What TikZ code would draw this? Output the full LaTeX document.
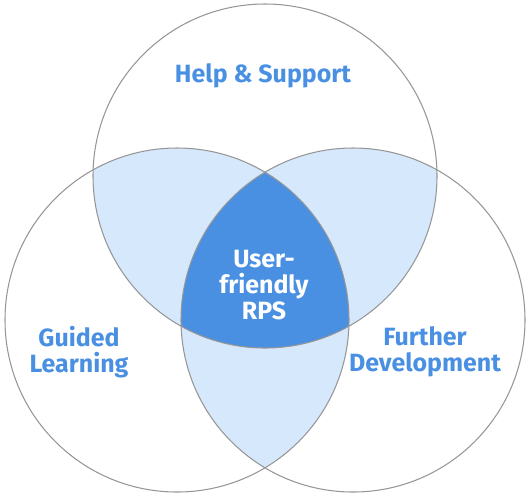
\documentclass[tikz,border=0pt]{standalone}
\usepackage{xcolor}
\usepackage{fontspec}
\setmainfont{Fira Sans}
\usepackage{tikz}
\usetikzlibrary{positioning}
\definecolor{myblue}{RGB}{74,144,226}
\definecolor{mylight}{RGB}{214,232,252}
\definecolor{mygray}{RGB}{150,150,150}
\tikzset{
  ring/.style={draw=mygray, line width=0.6pt},
  label/.style={align=center, text=myblue,
    font=\fontsize{14.2}{14.8}\selectfont\bfseries},
  core/.style={align=center, text=white,
    font=\fontsize{14.2}{14.8}\selectfont\bfseries}
}

\begin{document}
\begin{tikzpicture}[x=0.02cm, y=-0.02cm]
  \useasboundingbox (0,0) rectangle (530,495);
  \def\rr{172}
  \coordinate (top) at (265,176);
  \coordinate (left) at (177,320);
  \coordinate (right) at (353,320);

  % pairwise overlaps
  \begin{scope}
    \clip (top) circle (\rr);
    \fill[mylight] (left) circle (\rr);
    \fill[mylight] (right) circle (\rr);
  \end{scope}
  \begin{scope}
    \clip (left) circle (\rr);
    \fill[mylight] (right) circle (\rr);
  \end{scope}

  % centre overlap
  \begin{scope}
    \clip (top) circle (\rr);
    \clip (left) circle (\rr);
    \fill[myblue] (right) circle (\rr);
  \end{scope}

  % outlines
  \draw[ring] (top) circle (\rr);
  \draw[ring] (left) circle (\rr);
  \draw[ring] (right) circle (\rr);

  \node[label] (help) at (263,76) {Help \& Support};
  \node[label] (guided) at (79,352) {Guided\\Learning};
  \node[label] (further) at (425,352) {Further\\Development};
  \node[core] (rps) at (264,285) {User-\\friendly\\RPS};
\end{tikzpicture}
\end{document}
